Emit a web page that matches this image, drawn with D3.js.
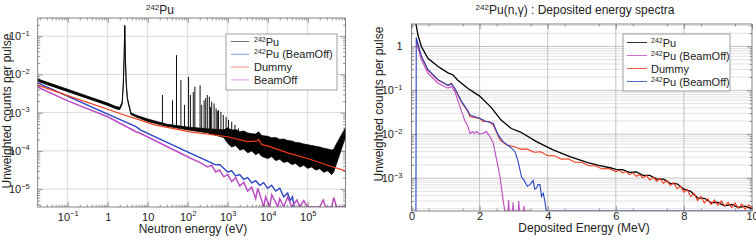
<!DOCTYPE html>
<html>
<head>
<meta charset="utf-8">
<script src="https://cdn.jsdelivr.net/npm/d3@7"></script>
<style>
body{margin:0;background:#fff}
svg{font-family:"Liberation Sans",Arial,sans-serif}
.domain{display:none}
</style>
</head>
<body>
<div id="container"></div>
<script>
// ---------- left panel : neutron energy (eV) ----------
const puE  = [0.0178,0.1,0.3,1,1.6,2.0,2.3,2.45,2.58,2.67,2.76,2.9,3.1,3.8,5,10,30,100,300,800,
              1000,1260,1580,2000,2510,3160,3980,5010,5900,7080,1e4,1.26e4,1.58e4,2e4,2.51e4,3.16e4,3.98e4,5.01e4,6.31e4,7.94e4,
              1e5,1.26e5,1.58e5,2e5,2.51e5,3.16e5,3.98e5,4.47e5,5.01e5,6.03e5,7.24e5,8.8e5]
const puHi = [7.6e-3,4.1e-3,2.75e-3,1.78e-3,1.45e-3,1.38e-3,1.9e-3,5.6e-3,3.2e-2,0.195,3.2e-2,6.3e-3,2.5e-3,1.0e-3,8.7e-4,6.8e-4,5.0e-4,4.2e-4,3.8e-4,3.55e-4,
              4.0e-4,3.47e-4,3.63e-4,3.16e-4,3.31e-4,2.95e-4,2.82e-4,2.75e-4,3.16e-4,2.51e-4,2.4e-4,2.19e-4,2.24e-4,2.0e-4,2.04e-4,1.86e-4,1.82e-4,1.66e-4,1.62e-4,1.51e-4,
              1.45e-4,1.38e-4,1.32e-4,1.26e-4,1.17e-4,1.12e-4,1.05e-4,1.1e-4,1.41e-4,2.0e-4,2.82e-4,4.0e-4]
const puLo = [6.6e-3,3.55e-3,2.4e-3,1.55e-3,1.26e-3,1.2e-3,1.66e-3,5.0e-3,2.8e-2,0.178,2.8e-2,5.6e-3,2.24e-3,8.9e-4,7.8e-4,5.9e-4,4.4e-4,3.55e-4,3.0e-4,2.24e-4,
              1.58e-4,1.26e-4,1.38e-4,1.05e-4,1.12e-4,8.9e-5,1.0e-4,7.9e-5,8.9e-5,7.2e-5,6.3e-5,7.1e-5,5.6e-5,6.0e-5,5.0e-5,5.25e-5,4.4e-5,4.7e-5,3.8e-5,4.2e-5,
              3.5e-5,3.8e-5,3.16e-5,3.4e-5,2.75e-5,3.0e-5,2.4e-5,2.8e-5,4.0e-5,7.1e-5,1.26e-4,2.24e-4]
const resE    = [23.4,41.7,52.5,67.6,83,105,117,138,151,204,224,257,282,309,347,372,398,457,513,550,589,676,776,912,1047,1259,1514,1862]
const resPeak = [2.9e-3,2.1e-3,3.2e-2,7.1e-3,1.6e-3,8.7e-3,2.9e-3,3.5e-3,4.8e-3,5.2e-3,1.6e-3,2.1e-3,2.4e-3,2.9e-3,2.6e-3,1.4e-3,1.95e-3,1.74e-3,1.3e-3,1.1e-3,1.17e-3,1.05e-3,8.7e-4,7.8e-4,6.5e-4,5.75e-4,4.8e-4,3.9e-4]
const dummyE = [0.0178,0.1,1,2,15,115,1000,3160,5400,5900,7080,1e4,3.16e4,1e5,3.16e5,8.8e5]
const dummyV = [5.25e-3,2.8e-3,1.23e-3,9.5e-4,4.8e-4,3.16e-4,2.34e-4,1.74e-4,1.82e-4,2.0e-4,1.45e-4,1.35e-4,8.9e-5,6.3e-5,4.2e-5,3.0e-5]
const puOffE = [0.0178,1,5.1,6.5,115,316,500,630,1000,1260,1580,2000,2510,3160,3980,5010,6310,7940,1e4,1.26e4,1.58e4,2e4,2.51e4,3.16e4,3.63e4,4.17e4,4.57e4]
const puOffV = [6.0e-3,9.1e-4,4.3e-4,3.55e-4,8.7e-5,5.4e-5,4.3e-5,4.4e-5,2.8e-5,3.0e-5,2.2e-5,2.4e-5,1.8e-5,2.0e-5,1.45e-5,1.66e-5,1.26e-5,1.48e-5,1.05e-5,1.26e-5,8.9e-6,1.05e-5,6.3e-6,7.9e-6,5.0e-6,6.3e-6,2.5e-6]
const beamOffE = [0.0178,0.1,1,5.1,6.5,115,200,316,400,500,630,800,1000,1260,1580,2000,2510,3160,3980,5010,5620,7080,7940,8900,11200,12600,15800,17800,2e4,
                  2.51e4,3.16e4,3.98e4,5.37e4,6.31e4,7.94e4,1e5,2e5,2.45e5,2.8e5,3.98e5,4.47e5,5.25e5,8.8e5]
const beamOffV = [4.7e-3,2.04e-3,7.8e-4,3.16e-4,2.9e-4,6.5e-5,5.0e-5,3.8e-5,4.2e-5,2.8e-5,3.16e-5,2.1e-5,2.4e-5,1.58e-5,2.0e-5,1.2e-5,1.5e-5,8.9e-6,1.12e-5,5.6e-6,1.05e-5,5.0e-6,2.5e-6,6.3e-6,3.2e-6,7.1e-6,4.5e-6,2.5e-6,5.6e-6,
                  3.2e-6,6.3e-6,2.5e-6,5.2e-6,2.5e-6,5.0e-6,2.5e-6,2.5e-6,5.2e-6,2.5e-6,2.5e-6,6.0e-6,2.5e-6,2.5e-6]
const leftXTicks = [0.1,1,10,100,1e3,1e4,1e5]
const leftYTicks = [1e-1,1e-2,1e-3,1e-4,1e-5]

// ---------- right panel : deposited energy (MeV) ----------
const depPuE = [0.13,0.19,0.29,0.48,0.78,1.07,1.22,1.36,1.66,2.0,2.34,2.63,2.93,3.2,3.67,4.16,4.65,5.18,5.5,5.86,
                6.0,6.2,6.4,6.6,6.8,7.0,7.2,7.4,7.6,7.8,8.0,8.2,8.4,8.6,8.8,9.0,9.2,9.4,9.6,9.8,10.0]
const depPuV = [3.5,1.82,1.0,0.54,0.35,0.25,0.224,0.17,0.11,0.074,0.041,0.021,0.0135,0.0112,6.8e-3,4.4e-3,3.1e-3,2.24e-3,1.95e-3,1.7e-3,
                1.58e-3,1.55e-3,1.35e-3,1.38e-3,1.15e-3,1.15e-3,9.5e-4,9.5e-4,7.6e-4,7.4e-4,5.6e-4,5.0e-4,3.55e-4,3.47e-4,2.75e-4,2.8e-4,2.34e-4,2.5e-4,2.14e-4,2.3e-4,2.0e-4]
const depOffE = [0.14,0.29,0.48,0.78,1.07,1.17,1.27,1.46,1.56,1.66,1.72,1.8,1.85,1.91,2.0,2.1,2.2,2.3,2.4,2.5,2.6,2.65,2.69,2.74,
                 2.84,2.85,2.87,2.97,2.98,3.0,3.14,3.15,3.17,3.29,3.3,3.32,3.5]
const depOffV = [1.29,0.5,0.245,0.145,0.112,0.123,0.095,0.035,0.021,0.0148,0.0105,0.0115,0.0105,0.0115,0.01,0.0105,0.0115,8.9e-3,6.3e-3,2.6e-3,1.07e-3,5.4e-4,3.16e-4,1e-6,
                 1e-6,3.2e-4,1e-6,1e-6,2.8e-4,1e-6,1e-6,3.0e-4,1e-6,1e-6,2.3e-4,1e-6,1e-6]
const depDummyE = [0.14,0.29,0.48,0.78,1.07,1.17,1.27,1.46,1.66,1.72,2.0,2.1,2.28,2.4,2.6,2.79,
                   3.0,3.2,3.4,3.6,3.8,4.0,4.2,4.4,4.6,4.8,5.0,5.2,5.4,5.6,5.8,
                   6.0,6.1,6.2,6.3,6.4,6.5,6.6,6.7,6.8,6.9,7.0,7.1,7.2,7.3,7.4,7.5,7.6,7.7,7.8,7.9,
                   8.0,8.1,8.2,8.3,8.4,8.5,8.6,8.7,8.8,8.9,9.0,9.1,9.2,9.3,9.4,9.5,9.6,9.7,9.8,9.9,10.0]
const depDummyV = [1.4,0.59,0.29,0.17,0.13,0.145,0.112,0.055,0.032,0.025,0.023,0.0195,0.0195,0.0162,7.4e-3,5.7e-3,
                   5.25e-3,4.57e-3,4.57e-3,3.89e-3,3.98e-3,3.24e-3,3.24e-3,2.69e-3,2.75e-3,2.29e-3,2.29e-3,1.91e-3,1.91e-3,1.62e-3,1.66e-3,
                   1.41e-3,1.51e-3,1.32e-3,1.41e-3,1.2e-3,1.32e-3,1.1e-3,1.2e-3,1.02e-3,1.15e-3,9.1e-4,1.05e-3,8.5e-4,9.8e-4,7.6e-4,8.9e-4,6.8e-4,7.9e-4,5.75e-4,6.6e-4,
                   4.8e-4,5.5e-4,3.8e-4,4.5e-4,3.1e-4,3.8e-4,2.7e-4,3.4e-4,2.5e-4,3.16e-4,2.4e-4,3.0e-4,2.3e-4,2.8e-4,2.14e-4,2.7e-4,2.04e-4,2.57e-4,1.95e-4,2.45e-4,2.1e-4]
const depOff2E = [0.13,0.14,0.29,0.48,0.78,1.07,1.17,1.27,1.46,1.66,1.72,2.0,2.2,2.4,2.55,2.69,2.89,3.04,3.13,3.23,3.33,3.4,3.48,3.57,3.62,3.67,3.72,3.77,3.82,3.87,3.91,3.96,10.0]
const depOff2V = [1e-6,1.6,0.6,0.3,0.175,0.13,0.14,0.112,0.058,0.034,0.0275,0.023,0.0195,0.0178,9.5e-3,6.8e-3,5.2e-3,4.0e-3,2.4e-3,1.07e-3,8.3e-4,6.5e-4,7.1e-4,8.9e-4,5.6e-4,5.9e-4,7.1e-4,7.1e-4,3.8e-4,4.5e-4,3.16e-4,1e-6,1e-6]
const rightXTicks = [0,2,4,6,8,10]
const rightYTicks = [1,1e-1,1e-2,1e-3]

const BLACK = "#000", BLUE = "#2a46c4", RED = "#f23a1a", MAGENTA = "#bd4cc2"

let svg = d3.select("#container").append("svg").attr("width",756).attr("height",240)

function supLabel(el, d){
  const e = Math.round(Math.log10(d))
  el.text(null)
  if (e === 0) { el.text("1"); return }
  if (e === 1) { el.text("10"); return }
  el.append("tspan").text("10")
  el.append("tspan").attr("dy",-4.5).attr("font-size",7.5).text(e < 0 ? "\u2212" + (-e) : e)
}

function logMinors(domain){
  const out = []
  for (let p = Math.floor(Math.log10(domain[0])); p <= Math.ceil(Math.log10(domain[1])); p++)
    for (let k = 2; k <= 9; k++) {
      const v = k * Math.pow(10, p)
      if (v > domain[0] && v < domain[1]) out.push(v)
    }
  return out
}

function tickStyle(g){ g.selectAll("line").attr("stroke","#555").attr("stroke-width",0.6) }

function frameTicks(g, x, y, xMaj, xMin, yMaj, yMin){
  const [l, r] = x.range(), [b, t] = y.range()
  g.append("g").attr("transform",`translate(0,${b})`).call(d3.axisTop(x).tickValues(xMaj).tickSize(5).tickFormat("")).call(tickStyle)
  g.append("g").attr("transform",`translate(0,${b})`).call(d3.axisTop(x).tickValues(xMin).tickSize(2.5).tickFormat("")).call(tickStyle)
  g.append("g").attr("transform",`translate(0,${t})`).call(d3.axisBottom(x).tickValues(xMaj).tickSize(5).tickFormat("")).call(tickStyle)
  g.append("g").attr("transform",`translate(0,${t})`).call(d3.axisBottom(x).tickValues(xMin).tickSize(2.5).tickFormat("")).call(tickStyle)
  g.append("g").attr("transform",`translate(${l},0)`).call(d3.axisRight(y).tickValues(yMaj).tickSize(5).tickFormat("")).call(tickStyle)
  g.append("g").attr("transform",`translate(${l},0)`).call(d3.axisRight(y).tickValues(yMin).tickSize(2.5).tickFormat("")).call(tickStyle)
  g.append("g").attr("transform",`translate(${r},0)`).call(d3.axisLeft(y).tickValues(yMaj).tickSize(5).tickFormat("")).call(tickStyle)
  g.append("g").attr("transform",`translate(${r},0)`).call(d3.axisLeft(y).tickValues(yMin).tickSize(2.5).tickFormat("")).call(tickStyle)
  g.append("rect").attr("x",l).attr("y",t).attr("width",r-l).attr("height",b-t)
    .attr("fill","none").attr("stroke","#666").attr("stroke-width",0.8)
}

function drawLegend(g, box, items, op){
  g.append("rect").attr("x",box.x).attr("y",box.y).attr("width",box.w).attr("height",box.h)
    .attr("fill","#fff").attr("stroke","#888").attr("stroke-width",0.8)
  items.forEach((it, i) => {
    const cy = box.y + box.row0 + i * box.step
    g.append("line").attr("x1",box.x + box.l0).attr("x2",box.x + box.l1).attr("y1",cy).attr("y2",cy)
      .attr("stroke",it.color).attr("stroke-width",1).attr("opacity",op)
    let t = g.append("text").attr("x",box.x + box.tx).attr("y",cy + 4).attr("font-size",11).attr("fill","#222")
    if (it.sup) {
      t.append("tspan").attr("font-size",7).attr("dy",-4).text(it.sup)
      t.append("tspan").attr("dy",4).text(it.text)
    } else t.text(it.text)
  })
}

function titleText(g, x, y, sup, rest){
  let t = g.append("text").attr("x",x).attr("y",y).attr("text-anchor","middle").attr("font-size",12).attr("fill","#222")
  t.append("tspan").attr("font-size",8).attr("dy",-4).text(sup)
  t.append("tspan").attr("dy",4).text(rest)
}

// ================= LEFT =================
const xL = d3.scaleLog().domain([0.0178, 8.8e5]).range([37.7, 345.5])
const yL = d3.scaleLog().domain([3.4e-6, 0.3]).range([207, 18]).clamp(true)
let gL = svg.append("g")

gL.selectAll(".gx").data(leftXTicks).enter().append("line")
  .attr("x1",d=>xL(d)).attr("x2",d=>xL(d)).attr("y1",yL.range()[0]).attr("y2",yL.range()[1])
  .attr("stroke","#cfcfcf").attr("stroke-width",0.8)
gL.selectAll(".gy").data(leftYTicks).enter().append("line")
  .attr("y1",d=>yL(d)).attr("y2",d=>yL(d)).attr("x1",xL.range()[0]).attr("x2",xL.range()[1])
  .attr("stroke","#cfcfcf").attr("stroke-width",0.8)

svg.append("clipPath").attr("id","clipL").append("rect")
  .attr("x",xL.range()[0]).attr("y",yL.range()[1]).attr("width",xL.range()[1]-xL.range()[0]).attr("height",yL.range()[0]-yL.range()[1])
let pL = gL.append("g").attr("clip-path","url(#clipL)")

const puRows = puE.map((e,i) => [e, puHi[i], puLo[i]])
pL.append("path").datum(puRows)
  .attr("d", d3.area().x(d=>xL(d[0])).y0(d=>yL(d[2])).y1(d=>yL(d[1])))
  .attr("fill",BLACK).attr("stroke",BLACK).attr("stroke-width",0.8)

// resonance spikes from the lower edge of the band
pL.selectAll(".res").data(d3.zip(resE, resPeak)).enter().append("line")
  .attr("x1",d=>xL(d[0])).attr("x2",d=>xL(d[0]))
  .attr("y1",d=>yL(d[1]))
  .attr("y2",d=>{
    const i = d3.bisectLeft(puE, d[0])
    const t = (xL(d[0]) - xL(puE[i-1])) / (xL(puE[i]) - xL(puE[i-1]))
    return yL(puLo[i-1]) + t * (yL(puLo[i]) - yL(puLo[i-1]))
  })
  .attr("stroke","#111").attr("stroke-width",1)

const lineL = d3.line().x(d=>xL(d[0])).y(d=>yL(d[1]))
pL.append("path").datum(d3.zip(puOffE, puOffV)).attr("d",lineL).attr("fill","none").attr("stroke",BLUE).attr("stroke-width",1.4)
pL.append("path").datum(d3.zip(beamOffE, beamOffV)).attr("d",lineL).attr("fill","none").attr("stroke",MAGENTA).attr("stroke-width",1.5)
pL.append("path").datum(d3.zip(dummyE, dummyV)).attr("d",lineL).attr("fill","none").attr("stroke",RED).attr("stroke-width",1.2)

frameTicks(gL, xL, yL, leftXTicks, logMinors(xL.domain()), leftYTicks, logMinors(yL.domain()))

gL.append("g").attr("transform",`translate(0,${yL.range()[0]})`)
  .call(d3.axisBottom(xL).tickValues(leftXTicks).tickSize(0).tickPadding(6).tickFormat(""))
  .call(g => g.selectAll(".tick text").attr("font-size",11).attr("fill","#222").each(function(d){ supLabel(d3.select(this), d) }))
gL.append("g").attr("transform",`translate(${xL.range()[0]},0)`)
  .call(d3.axisLeft(yL).tickValues(leftYTicks).tickSize(0).tickPadding(8).tickFormat(""))
  .call(g => g.selectAll(".tick text").attr("font-size",11).attr("fill","#222").each(function(d){ supLabel(d3.select(this), d) }))

drawLegend(gL, {x:226, y:34, w:111, h:56, row0:7.5, step:12.8, l0:5, l1:23, tx:28}, [
  {sup:"242", text:"Pu", color:BLACK},
  {sup:"242", text:"Pu (BeamOff)", color:BLUE},
  {sup:"", text:"Dummy", color:RED},
  {sup:"", text:"BeamOff", color:MAGENTA}
], 0.55)

titleText(gL, 160, 14, "242", "Pu")
gL.append("text").attr("x",193).attr("y",233).attr("text-anchor","middle").attr("font-size",12).attr("fill","#222").text("Neutron energy (eV)")
gL.append("text").attr("transform","translate(10.5,111) rotate(-90)").attr("text-anchor","middle").attr("font-size",12).attr("fill","#222").text("Unweighted counts per pulse")

// ================= RIGHT =================
const xR = d3.scaleLinear().domain([0, 10]).range([411.5, 752])
const yR = d3.scaleLog().domain([1.78e-4, 3.25]).range([211, 24]).clamp(true)
let gR = svg.append("g")

const yRMinor = logMinors(yR.domain())
gR.selectAll(".gmy").data(yRMinor).enter().append("line")
  .attr("y1",d=>yR(d)).attr("y2",d=>yR(d)).attr("x1",xR.range()[0]).attr("x2",xR.range()[1])
  .attr("stroke","#d4d4d4").attr("stroke-width",0.7)
gR.selectAll(".gy").data(rightYTicks).enter().append("line")
  .attr("y1",d=>yR(d)).attr("y2",d=>yR(d)).attr("x1",xR.range()[0]).attr("x2",xR.range()[1])
  .attr("stroke","#b5b5b5").attr("stroke-width",0.8)
gR.selectAll(".gx").data(rightXTicks.slice(1,-1)).enter().append("line")
  .attr("x1",d=>xR(d)).attr("x2",d=>xR(d)).attr("y1",yR.range()[0]).attr("y2",yR.range()[1])
  .attr("stroke","#b5b5b5").attr("stroke-width",0.8)

svg.append("clipPath").attr("id","clipR").append("rect")
  .attr("x",xR.range()[0]).attr("y",yR.range()[1]).attr("width",xR.range()[1]-xR.range()[0]).attr("height",yR.range()[0]-yR.range()[1])
let pR = gR.append("g").attr("clip-path","url(#clipR)")

const lineR = d3.line().x(d=>xR(d[0])).y(d=>yR(d[1]))
pR.append("path").datum(d3.zip(depPuE, depPuV)).attr("d",lineR).attr("fill","none").attr("stroke",BLACK).attr("stroke-width",1.3)
pR.append("path").datum(d3.zip(depOffE, depOffV)).attr("d",lineR).attr("fill","none").attr("stroke",MAGENTA).attr("stroke-width",1.1)
pR.append("path").datum(d3.zip(depDummyE, depDummyV)).attr("d",lineR).attr("fill","none").attr("stroke",RED).attr("stroke-width",1.1)
pR.append("path").datum(d3.zip(depOff2E, depOff2V)).attr("d",lineR).attr("fill","none").attr("stroke",BLUE).attr("stroke-width",1.1)

frameTicks(gR, xR, yR, rightXTicks, d3.range(0.5, 10, 1), rightYTicks, yRMinor)

gR.append("g").attr("transform",`translate(0,${yR.range()[0]})`)
  .call(d3.axisBottom(xR).tickValues(rightXTicks).tickSize(0).tickPadding(1).tickFormat(d3.format("d")))
  .call(g => g.selectAll(".tick text").attr("font-size",11).attr("fill","#222"))
gR.append("g").attr("transform",`translate(${xR.range()[0]},0)`)
  .call(d3.axisLeft(yR).tickValues(rightYTicks).tickSize(0).tickPadding(9).tickFormat(""))
  .call(g => g.selectAll(".tick text").attr("font-size",11).attr("fill","#222").each(function(d){ supLabel(d3.select(this), d) }))

drawLegend(gR, {x:623, y:34, w:107, h:57, row0:8.5, step:13, l0:4, l1:24, tx:28}, [
  {sup:"242", text:"Pu", color:BLACK},
  {sup:"242", text:"Pu (BeamOff)", color:MAGENTA},
  {sup:"", text:"Dummy", color:RED},
  {sup:"242", text:"Pu (BeamOff)", color:BLUE}
], 0.8)

titleText(gR, 575, 14, "242", "Pu(n,\u03b3) : Deposited energy spectra")
gR.append("text").attr("x",584).attr("y",232).attr("text-anchor","middle").attr("font-size",12).attr("fill","#222").text("Deposited Energy (MeV)")
gR.append("text").attr("transform","translate(382.5,104) rotate(-90)").attr("text-anchor","middle").attr("font-size",12).attr("fill","#222").text("Unweighted counts per pulse")
</script>
</body>
</html>
